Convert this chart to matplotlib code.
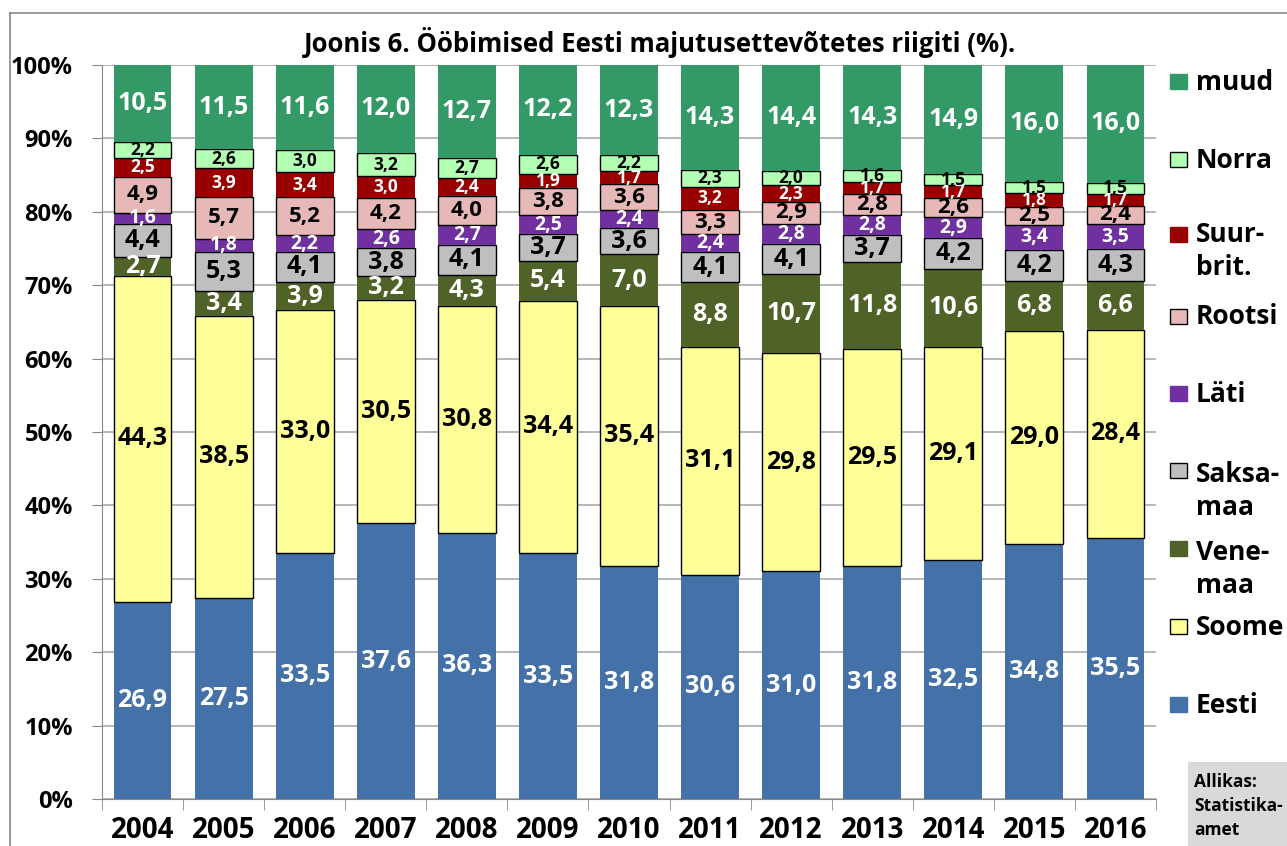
import numpy as np
import matplotlib.pyplot as plt
from matplotlib.patches import Rectangle
from matplotlib.lines import Line2D

plt.rcParams['font.family'] = ['Open Sans', 'DejaVu Sans']
plt.rcParams['font.weight'] = 'bold'

years = ['2004', '2005', '2006', '2007', '2008', '2009', '2010',
         '2011', '2012', '2013', '2014', '2015', '2016']

eesti = [26.9, 27.5, 33.5, 37.6, 36.3, 33.5, 31.8, 30.6, 31.0, 31.8, 32.5, 34.8, 35.5]
soome = [44.3, 38.5, 33.0, 30.5, 30.8, 34.4, 35.4, 31.1, 29.8, 29.5, 29.1, 29.0, 28.4]
vene = [2.7, 3.4, 3.9, 3.2, 4.3, 5.4, 7.0, 8.8, 10.7, 11.8, 10.6, 6.8, 6.6]
saksa = [4.4, 5.3, 4.1, 3.8, 4.1, 3.7, 3.6, 4.1, 4.1, 3.7, 4.2, 4.2, 4.3]
lati = [1.6, 1.8, 2.2, 2.6, 2.7, 2.5, 2.4, 2.4, 2.8, 2.8, 2.9, 3.4, 3.5]
rootsi = [4.9, 5.7, 5.2, 4.2, 4.0, 3.8, 3.6, 3.3, 2.9, 2.8, 2.6, 2.5, 2.4]
suurbrit = [2.5, 3.9, 3.4, 3.0, 2.4, 1.9, 1.7, 3.2, 2.3, 1.7, 1.7, 1.8, 1.7]
norra = [2.2, 2.6, 3.0, 3.2, 2.7, 2.6, 2.2, 2.3, 2.0, 1.6, 1.5, 1.5, 1.5]
muud = [10.5, 11.5, 11.6, 12.0, 12.7, 12.2, 12.3, 14.3, 14.4, 14.3, 14.9, 16.0, 16.0]

# series bottom -> top: (values, legend label, fill, edge, label colour, label size)
series = [
    (eesti, 'Eesti', '#4472A8', None, 'white', 18),
    (soome, 'Soome', '#FFFF99', 'black', 'black', 18),
    (vene, 'Vene-\nmaa', '#4F6228', None, 'white', 18),
    (saksa, 'Saksa-\nmaa', '#BFBFBF', 'black', 'black', 18),
    (lati, 'Läti', '#7030A0', None, 'white', 14),
    (rootsi, 'Rootsi', '#E6B9B8', 'black', 'black', 16),
    (suurbrit, 'Suur-\nbrit.', '#990000', None, 'white', 12.5),
    (norra, 'Norra', '#B3FFB3', 'black', 'black', 12.5),
    (muud, 'muud', '#339966', None, 'white', 18),
]

data = np.array([s[0] for s in series])
pct = data / data.sum(axis=0) * 100

fig = plt.figure(figsize=(12.87, 8.46), dpi=100)
ax = fig.add_axes([102 / 1287, 47 / 846, 1054 / 1287, (799 - 65) / 846])

x = np.arange(len(years))
bottom = np.zeros(len(years))
for i, (vals, name, fc, ec, tc, fs) in enumerate(series):
    ax.bar(x, pct[i], 0.714, bottom=bottom, color=fc,
           edgecolor=ec if ec else fc, linewidth=1.0 if ec else 0, zorder=3)
    for j, v in enumerate(vals):
        ax.text(x[j], bottom[j] + pct[i][j] / 2, f'{v:.1f}'.replace('.', ','),
                ha='center', va='center', color=tc, fontsize=fs,
                fontweight='bold', zorder=4)
    bottom += pct[i]

ax.set_xlim(-0.5, len(years) - 0.5)
ax.set_ylim(0, 100)
ax.set_yticks(np.arange(0, 101, 10))
ax.set_yticklabels([f'{t}%' for t in range(0, 101, 10)], fontsize=17, fontweight='bold')
ax.set_xticks(x)
ax.set_xticks(np.arange(-0.5, len(years), 1), minor=True)
ax.set_xticklabels(years, fontsize=20, fontweight='bold')
ax.tick_params(axis='x', which='major', length=0, pad=12)
ax.tick_params(axis='x', which='minor', length=8, color='#888888')
ax.tick_params(axis='y', length=7, color='#888888', pad=14)
ax.grid(axis='y', color='#AAAAAA', linewidth=1.2, zorder=0)
for sp in ['top', 'right']:
    ax.spines[sp].set_visible(False)
ax.spines['left'].set_color('#888888')
ax.spines['bottom'].set_color('#888888')

fig.text(660 / 1287, 1 - 42 / 846,
         'Joonis 6. Ööbimised Eesti majutusettevõtetes riigiti (%).',
         ha='center', va='center', fontsize=18.5, fontweight='bold')

# outer frame
fig.add_artist(Line2D([10 / 1287, 10 / 1287], [0, 1 - 13 / 846],
                      transform=fig.transFigure, color='#888888', lw=1.2))
fig.add_artist(Line2D([10 / 1287, 1], [1 - 13 / 846, 1 - 13 / 846],
                      transform=fig.transFigure, color='#888888', lw=1.2))

# legend, drawn by hand to follow the original spacing
leg_y = {'muud': 82, 'Norra': 160, 'Suur-\nbrit.': 251, 'Rootsi': 317, 'Läti': 394,
         'Saksa-\nmaa': 491, 'Vene-\nmaa': 569, 'Soome': 627, 'Eesti': 705}
first_y = {'Suur-\nbrit.': 235, 'Saksa-\nmaa': 471, 'Vene-\nmaa': 549}
for vals, name, fc, ec, tc, fs in series:
    yc = leg_y[name]
    my = first_y.get(name, yc)
    fig.add_artist(Rectangle((1170 / 1287, 1 - (my + 7) / 846), 17 / 1287, 15 / 846,
                             transform=fig.transFigure, facecolor=fc,
                             edgecolor=ec if ec else fc, linewidth=1))
    fig.text(1196 / 1287, 1 - yc / 846, name, ha='left', va='center',
             fontsize=19, fontweight='bold', linespacing=1.3)

fig.add_artist(Rectangle((1188 / 1287, 0), 99 / 1287, 84 / 846,
                         transform=fig.transFigure, facecolor='#D9D9D9',
                         edgecolor='none'))
fig.text(1194 / 1287, 1 - 806 / 846, 'Allikas:\nStatistika-\namet',
         ha='left', va='center', fontsize=12.5, fontweight='bold', linespacing=1.45)

fig.savefig('out.png', dpi=100)
